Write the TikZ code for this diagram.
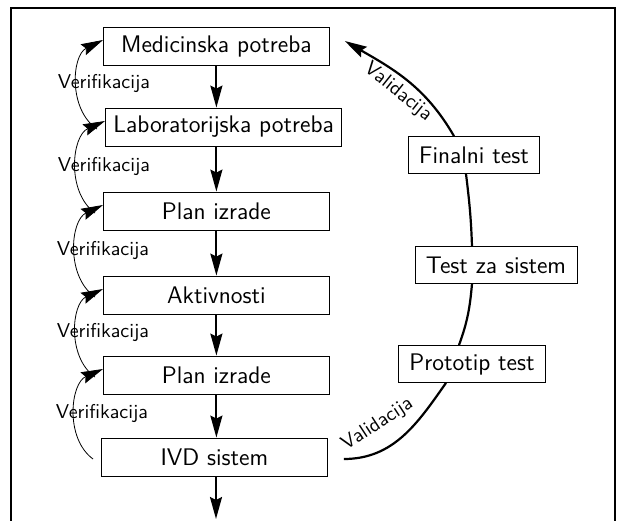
\documentclass[tikz,border=0pt]{standalone}
\usepackage{tikz}
\usetikzlibrary{arrows.meta,calc}

\begin{document}
\begin{tikzpicture}[x=0.5pt,y=0.5pt,font=\sffamily,
  korak/.style={draw,anchor=west,minimum width=113pt,minimum height=19pt,inner xsep=4pt,font=\sffamily\large},
  test/.style={draw,minimum height=18.5pt,inner xsep=5.5pt,font=\sffamily\large},
  strelica/.style={line width=1.1pt,-{Stealth[length=11pt,width=6pt,inset=1.5pt]}},
  verif/.style={line width=0.4pt,-{Stealth[length=11pt,width=6pt,inset=1.5pt]}},
  valid/.style={line width=1.1pt}]
\useasboundingbox (0,0) rectangle (618,-521);
\draw[line width=0.6pt] (11,-521) -- (11,-8) -- (615,-8) -- (615,-521);

% koraci
\node[korak] (k1) at (103,-46) {Medicinska potreba};
\node[korak] (k2) at (105,-127) {Laboratorijska potreba};
\node[korak] (k3) at (103,-211) {Plan izrade};
\node[korak] (k4) at (103,-295) {Aktivnosti};
\node[korak] (k5) at (103,-375) {Plan izrade};
\node[korak] (k6) at (101,-457) {IVD sistem};
\coordinate (kraj) at (216,-519);

% testovi
\node[test] (f1) at (474,-155) {Finalni test};
\node[test] (f2) at (496,-265) {Test za sistem};
\node[test] (f3) at (472,-364) {Prototip test};

\foreach \a/\b in {k1/k2,k2/k3,k3/k4,k4/k5,k5/k6}
  \draw[strelica] (\a.south -| k1.south) -- (\b.north -| k1.south);
\draw[strelica] (k6.south -| kraj) -- (kraj);

\foreach \a/\b in {k2/k1,k3/k2,k4/k3,k5/k4,k6/k5} {
  \draw[verif] ([xshift=-4pt,yshift=-1pt]\a.west) to[bend left=60] ([yshift=3pt]\b.west);
  \node (ver-\a) at ($(\a.west)!.5!(\b.west)+(0,3)$) {Verifikacija};
}

\draw[valid] ([xshift=8pt,yshift=-1pt]k6.east) to[out=0,in=-125]
  node[sloped,above=4pt,pos=.38] (val1) {Validacija} ([xshift=-13pt]f3.south);
\draw[valid] ([xshift=-6.5pt]f3.north) to[out=70,in=-95] ([xshift=-12pt]f2.south);
\draw[valid] ([xshift=-12pt]f2.north) to[out=92,in=-83] ([xshift=-4pt]f1.south);
\draw[valid,-{Stealth[length=11pt,width=6pt,inset=1.5pt]}] ([xshift=-10pt]f1.north)
  to[out=120,in=-30] node[sloped,below=-1pt,pos=.5] (val2) {Validacija} ([xshift=7.5pt,yshift=2.5pt]k1.east);
\end{tikzpicture}
\end{document}
